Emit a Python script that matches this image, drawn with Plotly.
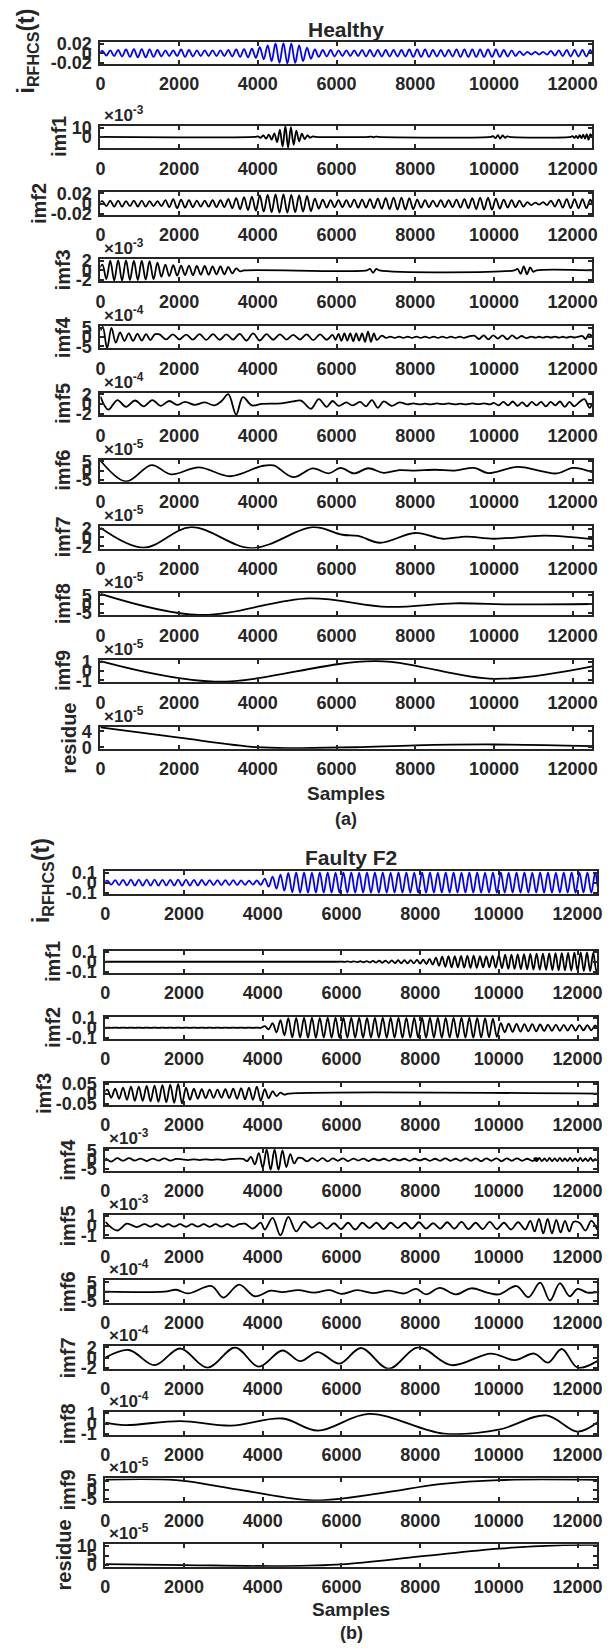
import plotly.graph_objects as go

W, H = 615, 1652
FONT = "Liberation Sans, Arial, sans-serif"
TXT = "#262626"

X_MAX = 12500
X_TICKS = [0, 2000, 4000, 6000, 8000, 10000, 12000]
X_TICK_TEXT = ["0", "2000", "4000", "6000", "8000", "10000", "12000"]

# ------------------------------------------------------------------ data
# Dense components: peak amplitude of each 200-sample cycle
# (units: 1e-3 for the raw currents / imf2 of (a) / imf1-3 of (b))
H_RAW_CYCLE = [5, 6, 7, 8, 9, 9, 8, 7, 6, 6, 8, 7, 6, 6, 6, 6, 7, 8, 9, 10,
               13, 17, 21, 22, 21, 17, 12, 8, 7, 7, 6, 6, 6, 7, 7, 7, 7, 7, 7, 8,
               8, 8, 7, 7, 7, 8, 8, 8, 8, 8, 8, 7, 6, 4, 3, 3, 3, 5, 6, 7, 7, 7, 7]
H_IMF1_BURST = [0.5, 1, 1.5, 2, 2.5, 3, 4, 6, 8, 11, 12, 12, 11, 9, 7, 5, 3.5, 2.5, 1.5, 1, 0.5]
H_IMF1_B2 = [0.3, 0.5, 0.3]
H_IMF1_B3 = [0.8, 1.5, 2, 2, 1.5, 1, 0.6]
H_IMF1_B4 = [0.8, 1.2, 1, 1.5, 2, 1.5, 2.5, 2, 3, 3.5, 3]
H_IMF2_CYCLE = [5, 6, 6, 5, 6, 6, 5, 5, 7, 9, 8, 7, 6, 6, 7, 7, 9, 11, 13, 14,
                16, 17, 18, 18, 17, 16, 15, 10, 8, 7, 7, 7, 8, 8, 9, 10, 11, 12, 12, 11,
                8, 7, 6, 7, 7, 8, 9, 11, 12, 12, 10, 8, 7, 6, 3, 2, 3, 6, 8, 9, 9, 9, 8]
H_IMF3_A = [1.2, 1.8, 2.0, 2.1, 2.1, 2.1, 2.1, 2.0, 2.0, 2.0, 2.0, 1.9, 1.9, 1.8, 1.6,
            1.3, 1.2, 1.2, 1.1, 1.1, 1.0, 1.0, 1.0, 1.0, 0.9, 0.9, 0.9, 0.9, 0.8, 0.8,
            0.8, 0.8, 0.7, 0.6, 0.4, 0.2]
H_IMF3_B = [0.3, 0.5, 0.3]
H_IMF3_C = [0.3, 0.7, 0.8, 0.8, 0.6, 0.3]
H_IMF4_A = [5.5, 6, 5, 3, 2.5, 2, 2, 2, 1.8, 1.8, 1.6, 1.6, 1.5]
H_IMF4_B = [1.5, 1.2, 1.5, 1.2, 1.4, 1.3, 1.6, 1.5, 1.6, 1.4, 1.5, 1.3, 1.8, 1.8, 2.0,
            1.8, 1.6, 1.4, 1.5, 1.3, 1.2, 1.3, 1.5, 1.6, 1.5, 1.4]
H_IMF4_C = [1.2, 1.5, 1.8, 2, 2, 1.8, 2, 2.2, 2, 1.8, 2, 2.5, 3, 2.5, 2, 1.5]
H_IMF4_D = [0.8, 0.4, 0.3, 0.4, 0.3, 0.4, 0.3, 0.4, 0.3, 0.4, 0.3, 0.4, 0.3, 0.4, 0.3,
            0.4, 0.3, 0.4, 0.3, 0.4, 0.3]
H_IMF4_E = [0.8, 1, 1, 1.2, 1, 0.8, 1, 1.2, 1, 0.8, 0.6, 0.5]
H_IMF4_F = [0.3, 0.3, 0.2, 0.3, 0.3, 0.2, 0.3, 0.3, 0.2, 0.3, 0.3, 0.2, 0.3]
H_IMF4_G = [0.6, 1.0, 1.5]
H_IMF5_X = [0, 200, 430, 650, 880, 1100, 1320, 1530, 1750, 1950, 2150, 2400, 2650, 2900,
            3080, 3250, 3450, 3620, 3850, 4100, 4600, 4900, 5100, 5350, 5550, 5750, 5900,
            6050, 6250, 6400, 6600, 6750, 6900, 7050, 7200, 7400, 7600, 7800]
H_IMF5_Y = [1.5, -1.2, 0.8, -0.6, 0.7, -0.5, 0.8, -0.4, 0.6, -0.2, 0.4, -0.2, 0.3, -0.3,
            0.6, 2.0, -2.2, 1.4, -0.3, 0, 0.1, 0.5, 0.7, -1.0, 1.0, -0.6, 0.6, -0.4, 0.3,
            -0.3, 0.4, -0.5, 0.8, -0.8, 0.5, -0.4, 0.3, -0.1]
H_IMF5_B = [0.1, 0.1, 0.05, 0.1, 0.1, 0.05, 0.1, 0.1, 0.05, 0.1, 0.1, 0.05, 0.1, 0.1]
H_IMF5_C = [0.2, 0.3, 0.4, 0.3, 0.5, 0.4, 0.3, 0.5, 0.4, 0.3, 0.4, 0.5, 0.4, 0.3, 0.5,
            0.6, 0.4, 0.5, 0.3]
H_IMF5_END_X = [12300, 12430, 12500]
H_IMF5_END_Y = [1.0, -0.8, 0.2]
H_IMF6_X = [0, 650, 1300, 1800, 2500, 3300, 4100, 4400, 4900, 5400, 5800, 6100, 6450, 6800,
            7200, 7600, 8000, 8500, 9000, 9500, 9850, 10600, 11600, 12000, 12500]
H_IMF6_Y = [5.5, -5.8, 3.0, -2.0, 1.8, -3.0, 2.5, 2.8, -3.5, 1.2, -1.5, 1.5, -1.5, 1.3,
            -1.2, 0.3, 0.0, 0.5, 0.0, 1.5, -1.3, 2.0, -1.5, 1.5, -0.8]
H_IMF7_X = [0, 1100, 2300, 3850, 5400, 6150, 6550, 7100, 8000, 8700, 9300, 10000, 11300, 12500]
H_IMF7_Y = [2.2, -2.3, 2.3, -2.4, 2.3, 0.6, 0.35, -1.2, 1.0, -0.3, 0.2, -0.3, 0.4, -0.4]
H_IMF8_X = [0, 2500, 5300, 7300, 9000, 10500, 12500]
H_IMF8_Y = [5.8, -6.0, 3.2, -1.5, 0.5, -0.1, 0.1]
H_IMF9_X = [0, 2900, 7000, 10000, 12500]
H_IMF9_Y = [1.05, -1.15, 1.05, -0.85, 0.5]
H_RES_X = [0, 2000, 4000, 5000, 6500, 8000, 10000, 12500]
H_RES_Y = [5.0, 2.4, 0.0, -0.2, 0.0, 0.5, 0.7, 0.3]

F_RAW_CYCLE = [20, 25, 28, 30, 30, 30, 30, 28, 28, 30, 30, 28, 26, 25, 25, 24, 24, 22, 20, 22,
               40, 60, 80, 95, 100, 100, 99, 100, 100, 99, 100, 100, 99, 100, 100, 100, 99,
               100, 100, 99, 100, 100, 99, 100, 100, 99, 100, 100, 99, 100, 100, 99, 100, 100,
               99, 100, 100, 99, 100, 100, 99, 100, 100]
F_IMF1_CYCLE = [2, 3, 4, 5, 6, 8, 10, 12, 14, 15, 15, 16, 18, 22, 28, 40, 50, 55, 55, 58, 60,
                60, 55, 55, 60, 65, 70, 70, 72, 75, 78, 80, 80, 82, 85, 85, 88, 90, 92, 92, 90]
F_IMF2_CYCLE = [1, 1, 1, 1, 1, 1, 1, 1, 1, 1, 1, 1, 1, 1, 1, 1, 1, 1, 1, 1,
                15, 45, 75, 95, 98, 100, 100, 98, 100, 100, 99, 100, 100, 98, 100, 100, 99,
                100, 98, 100, 100, 99, 100, 98, 100, 99, 100, 98, 95, 90,
                45, 40, 38, 35, 35, 32, 30, 30, 28, 28, 25, 25, 22]
F_IMF3_CYCLE = [20, 25, 30, 35, 35, 38, 40, 42, 45, 48, 30, 25, 22, 20, 20, 22, 25, 28, 30,
                35, 22, 12, 5]
F_IMF4_A = [0.8, 1.0, 0.8, 0.6, 0.8, 0.5, 0.6, 0.8, 0.6, 0.5, 0.7, 0.5, 0.4]
F_IMF4_B = [0.2, 0.2, 0.15, 0.2, 0.2, 0.15, 0.2, 0.2, 0.3]
F_IMF4_C = [0.4, 0.8, 1.5, 2.5, 3.5, 4.5, 5.5, 5.5, 5.5, 5.5, 5, 4, 3, 2, 1]
F_IMF4_D = [0.8, 0.9, 0.8, 0.7, 0.8, 0.9, 0.7, 0.6, 0.7, 0.8, 0.6, 0.5, 0.6, 0.7, 0.5, 0.4,
            0.5, 0.6, 0.5, 0.4, 0.5, 0.6, 0.5, 0.4, 0.5, 0.6, 0.5, 0.6, 0.7, 0.6, 0.5, 0.6,
            0.7, 0.6, 0.7, 0.8, 0.7, 0.6, 0.7, 0.8, 0.7, 0.6, 0.7, 0.6, 0.5, 0.6, 0.7]
F_IMF4_E = [0.7, 0.8, 0.9, 0.8, 0.7, 0.8, 0.9, 0.8, 0.7, 0.8, 0.9, 0.8, 0.7, 0.8, 0.9, 0.8,
            0.7, 0.8, 0.9, 0.8, 0.7, 0.8, 0.9, 0.8, 0.7]
F_IMF5_HEAD_X = [0, 300, 550, 800]
F_IMF5_HEAD_Y = [0.4, -0.5, 0.2, -0.15]
F_IMF5_B = [0.15, 0.1, 0.15, 0.12, 0.15, 0.1, 0.15, 0.12, 0.15, 0.1, 0.15, 0.12, 0.15, 0.1,
            0.15, 0.12, 0.15]
F_IMF5_MID_X = [3550, 3750, 3950, 4050, 4250, 4450, 4650, 4850, 5050, 5250]
F_IMF5_MID_Y = [0.2, -0.3, 0.3, -0.4, 0.8, -1.0, 0.9, -0.6, 0.4, -0.2]
F_IMF5_D = [0.3, 0.3, 0.25, 0.35, 0.3, 0.4, 0.3, 0.25, 0.3, 0.35, 0.3, 0.25, 0.3, 0.3, 0.35,
            0.3, 0.25, 0.3, 0.35, 0.3, 0.4, 0.35, 0.3, 0.35, 0.4, 0.35, 0.3, 0.4, 0.35, 0.4]
F_IMF5_E = [0.5, 0.6, 0.7, 0.8, 0.7, 0.8, 0.6, 0.7, 0.5, 0.6, 0.4]
F_IMF5_END_X = [12050, 12200, 12350, 12500]
F_IMF5_END_Y = [0.3, -0.5, 0.5, -0.4]
F_IMF6_X = [0, 1500, 1800, 2100, 2700, 3000, 3400, 3800, 4200, 4500, 4900, 5300, 5700, 6000,
            6400, 6800, 7200, 7600, 7900, 8150, 8500, 8900, 9300, 9700, 10000, 10450, 10750,
            11050, 11300, 11550, 11800, 12000, 12250, 12500]
F_IMF6_Y = [0, 0, 1.0, -1.0, 3.0, -3.2, 3.8, -2.5, 0.5, -0.3, 0.8, -0.5, 0.8, -1.2, 0.8,
            -0.8, 0.5, -1.0, 1.5, -1.5, 2.0, -1.5, 1.8, -0.5, -1.5, 3.0, -3.0, 4.8, -4.8,
            4.5, -2.5, 1.5, -0.5, -0.3]
F_IMF7_X = [0, 600, 1250, 1900, 2600, 3300, 3900, 4500, 4950, 5400, 5950, 6500, 7200, 7950,
            8800, 9800, 10400, 10900, 11250, 11600, 12000, 12500]
F_IMF7_Y = [0.0, 1.5, -1.5, 1.8, -2.0, 2.0, -1.8, 1.4, -0.7, 1.1, -1.2, 1.9, -2.2, 2.0,
            -1.5, 0.8, -0.5, 0.8, -1.0, 1.7, -2.0, -0.7]
F_IMF8_X = [0, 500, 1900, 3200, 4500, 5400, 6700, 8600, 10000, 11200, 12000, 12500]
F_IMF8_Y = [0.1, -0.15, 0.25, -0.2, 0.5, -0.7, 0.95, -1.0, -0.6, 0.8, -0.8, 0.1]
F_IMF9_X = [0, 1800, 3500, 5300, 7000, 8500, 10000, 12500]
F_IMF9_Y = [5.5, 5.2, -0.5, -6.0, -2.0, 3.0, 5.3, 5.4]
F_RES_X = [0, 2000, 4500, 6000, 8000, 10000, 11500, 12500]
F_RES_Y = [0.5, 0.0, -0.5, 0.4, 4.5, 8.6, 10.3, 10.5]


# ------------------------------------------------------------------ helpers
def alt(x0, step, amps, reps=1, pad=False):
    xs, ys, s, i = [], [], 1, 0
    for a in amps:
        for _ in range(reps):
            xs.append(x0 + i * step)
            ys.append(s * a)
            s, i = -s, i + 1
    if pad:
        xs = [x0 - step] + xs + [xs[-1] + step]
        ys = [0] + ys + [0]
    return xs, ys


def build(pieces, unit=1.0, start=None, end=None):
    X, Y = [], []
    if start is not None:
        X.append(0); Y.append(start)
    for p in pieces:
        if p[0] == "alt":
            xs, ys = alt(*p[1:])
        else:
            xs, ys = p[1], p[2]
        X += list(xs); Y += list(ys)
    if end is not None:
        X.append(X_MAX); Y.append(end)
    return X, [v * unit for v in Y]


A = "alt"
P = "pts"
PANEL_A = [
    dict(lab="i<sub>RFHCS</sub>(t)", d=build([(A, 50, 100, H_RAW_CYCLE, 2, True)], 1e-3),
         yr=[-0.023, 0.025], tv=[-0.02, 0, 0.02], tt=["-0.02", "0", "0.02"], ex=None, c="#0000FF"),
    dict(lab="imf1", d=build([(A, 4000, 70, H_IMF1_BURST, 1, True), (A, 6880, 60, H_IMF1_B2, 1, True),
                              (A, 9980, 60, H_IMF1_B3, 1, True), (A, 12000, 45, H_IMF1_B4, 1, True)],
                             start=0),
         yr=[-12.5, 12.5], tv=[0, 10], tt=["0", "10"], ex="-3"),
    dict(lab="imf2", d=build([(A, 50, 100, H_IMF2_CYCLE, 2, True)], 1e-3),
         yr=[-0.022, 0.022], tv=[-0.02, 0, 0.02], tt=["-0.02", "0", "0.02"], ex=None),
    dict(lab="imf3", d=build([(A, 50, 100, H_IMF3_A, 1, True), (A, 6850, 80, H_IMF3_B, 1, True),
                              (A, 10600, 80, H_IMF3_C, 1, True)], end=0),
         yr=[-2.3, 2.3], tv=[-2, 0, 2], tt=["-2", "0", "2"], ex="-3"),
    dict(lab="imf4", d=build([(A, 60, 110, H_IMF4_A, 1, False), (A, 1500, 170, H_IMF4_B, 1, False),
                              (A, 5900, 75, H_IMF4_C, 1, False), (A, 7150, 110, H_IMF4_D, 1, False),
                              (A, 9500, 120, H_IMF4_E, 1, False), (A, 10950, 100, H_IMF4_F, 1, False),
                              (A, 12250, 80, H_IMF4_G, 1, False)], start=3.5, end=0.5),
         yr=[-6, 6], tv=[-5, 0, 5], tt=["-5", "0", "5"], ex="-4"),
    dict(lab="imf5", d=build([(P, H_IMF5_X, H_IMF5_Y), (A, 7950, 150, H_IMF5_B, 1, False),
                              (A, 10000, 120, H_IMF5_C, 1, False), (P, H_IMF5_END_X, H_IMF5_END_Y)]),
         yr=[-2.3, 2.3], tv=[-2, 0, 2], tt=["-2", "0", "2"], ex="-4"),
    dict(lab="imf6", d=build([(P, H_IMF6_X, H_IMF6_Y)]),
         yr=[-6, 6], tv=[-5, 0, 5], tt=["-5", "0", "5"], ex="-5"),
    dict(lab="imf7", d=build([(P, H_IMF7_X, H_IMF7_Y)]),
         yr=[-2.5, 2.5], tv=[-2, 0, 2], tt=["-2", "0", "2"], ex="-5"),
    dict(lab="imf8", d=build([(P, H_IMF8_X, H_IMF8_Y)]),
         yr=[-6.2, 6.2], tv=[-5, 0, 5], tt=["-5", "0", "5"], ex="-5"),
    dict(lab="imf9", d=build([(P, H_IMF9_X, H_IMF9_Y)]),
         yr=[-1.2, 1.2], tv=[-1, 0, 1], tt=["-1", "0", "1"], ex="-5"),
    dict(lab="residue", d=build([(P, H_RES_X, H_RES_Y)]),
         yr=[-0.4, 5.2], tv=[0, 4], tt=["0", "4"], ex="-5"),
]
PANEL_B = [
    dict(lab="i<sub>RFHCS</sub>(t)", d=build([(A, 50, 100, F_RAW_CYCLE, 2, True)], 1e-3),
         yr=[-0.11, 0.11], tv=[-0.1, 0, 0.1], tt=["-0.1", "0", "0.1"], ex=None, c="#0000FF"),
    dict(lab="imf1", d=build([(A, 6000, 80, F_IMF1_CYCLE, 2, True)], 1e-3, start=0),
         yr=[-0.11, 0.11], tv=[-0.1, 0, 0.1], tt=["-0.1", "0", "0.1"], ex=None),
    dict(lab="imf2", d=build([(A, 50, 100, F_IMF2_CYCLE, 2, True)], 1e-3),
         yr=[-0.11, 0.11], tv=[-0.1, 0, 0.1], tt=["-0.1", "0", "0.1"], ex=None),
    dict(lab="imf3", d=build([(A, 50, 100, F_IMF3_CYCLE, 2, True)], 1e-3, end=0),
         yr=[-0.055, 0.055], tv=[-0.05, 0, 0.05], tt=["-0.05", "0", "0.05"], ex=None),
    dict(lab="imf4", d=build([(A, 0, 150, F_IMF4_A, 1, False), (A, 1950, 150, F_IMF4_B, 1, False),
                              (A, 3500, 100, F_IMF4_C, 1, False), (A, 5000, 130, F_IMF4_D, 1, False),
                              (A, 10900, 65, F_IMF4_E, 1, False)]),
         yr=[-6, 6], tv=[-5, 0, 5], tt=["-5", "0", "5"], ex="-3"),
    dict(lab="imf5", d=build([(P, F_IMF5_HEAD_X, F_IMF5_HEAD_Y), (A, 1000, 150, F_IMF5_B, 1, False),
                              (P, F_IMF5_MID_X, F_IMF5_MID_Y), (A, 5450, 180, F_IMF5_D, 1, False),
                              (A, 10800, 110, F_IMF5_E, 1, False), (P, F_IMF5_END_X, F_IMF5_END_Y)]),
         yr=[-1.15, 1.15], tv=[-1, 0, 1], tt=["-1", "0", "1"], ex="-3"),
    dict(lab="imf6", d=build([(P, F_IMF6_X, F_IMF6_Y)]),
         yr=[-6, 6], tv=[-5, 0, 5], tt=["-5", "0", "5"], ex="-4"),
    dict(lab="imf7", d=build([(P, F_IMF7_X, F_IMF7_Y)]),
         yr=[-2.2, 2.2], tv=[-2, 0, 2], tt=["-2", "0", "2"], ex="-4"),
    dict(lab="imf8", d=build([(P, F_IMF8_X, F_IMF8_Y)]),
         yr=[-1.1, 1.1], tv=[-1, 0, 1], tt=["-1", "0", "1"], ex="-4"),
    dict(lab="imf9", d=build([(P, F_IMF9_X, F_IMF9_Y)]),
         yr=[-6.2, 6.2], tv=[-5, 0, 5], tt=["-5", "0", "5"], ex="-5"),
    dict(lab="residue", d=build([(P, F_RES_X, F_RES_Y)]),
         yr=[-0.8, 10.8], tv=[0, 5, 10], tt=["0", "5", "10"], ex="-5"),
]

# ------------------------------------------------------------------ layout (pixels)
A_LEFT, A_RIGHT = 97, 597
B_LEFT, B_RIGHT = 102, 602
A_TOPS = [33, 118, 185.5, 253, 320.5, 388, 455.5, 523, 590.5, 658, 725.5]
B_TOPS = [872, 952, 1018.7, 1085.4, 1152.1, 1218.8, 1285.5, 1352.2, 1418.9, 1485.6, 1552.3]
BOX_H = 22.5
TICK_SIZE = 18
LAB_SIZE = 20
GLYPH_W = {"-": 0.333, ".": 0.278}


def text_w(s, size):
    return sum(GLYPH_W.get(ch, 0.556) for ch in s) * size


def px(x):
    return x / W


def py(y):
    return 1 - y / H


fig = go.Figure()
annotations = []
axis_id = 0


def tfont(size, bold=True):
    return dict(family=FONT, size=size, color=TXT, weight="bold" if bold else "normal")


for panel, left, right, tops in [(PANEL_A, A_LEFT, A_RIGHT, A_TOPS),
                                 (PANEL_B, B_LEFT, B_RIGHT, B_TOPS)]:
    for k, spec in enumerate(panel):
        axis_id += 1
        sfx = "" if axis_id == 1 else str(axis_id)
        top = tops[k]
        bot = top + BOX_H
        xs, ys = spec["d"]
        fig.add_trace(go.Scatter(
            x=xs, y=ys, mode="lines", xaxis="x" + sfx, yaxis="y" + sfx,
            line=dict(color=spec.get("c", "#000000"), width=1.8, shape="spline", smoothing=1.0),
            showlegend=False, hoverinfo="skip"))
        common = dict(showline=True, linewidth=2, linecolor=TXT, mirror="ticks",
                      ticks="inside", ticklen=4, tickwidth=1.5, tickcolor=TXT,
                      showgrid=False, zeroline=False, tickfont=tfont(TICK_SIZE))
        fig.layout["xaxis" + sfx] = dict(
            domain=[px(left), px(right)], anchor="y" + sfx, range=[0, X_MAX],
            tickvals=X_TICKS, ticktext=X_TICK_TEXT, ticklabelstandoff=3, **common)
        fig.layout["yaxis" + sfx] = dict(
            domain=[py(bot), py(top)], anchor="x" + sfx, range=spec["yr"],
            tickvals=spec["tv"], ticktext=spec["tt"], ticklabelstandoff=3, **common)
        maxw = max(text_w(t, TICK_SIZE) for t in spec["tt"])
        if k == 0:
            ylx, yly, fsz = left - 3 - maxw - 30, (top + bot) / 2 - 2, 23
        else:
            ylx, yly, fsz = left - 3 - maxw - 19, (top + bot) / 2, LAB_SIZE
        annotations.append(dict(
            x=px(ylx), y=py(yly), xref="paper", yref="paper",
            text=spec["lab"], textangle=-90, showarrow=False,
            xanchor="center", yanchor="middle", font=tfont(fsz)))
        if spec["ex"]:
            annotations.append(dict(
                x=px(left + 2), y=py(top + 1), xref="paper", yref="paper",
                text="×10<sup>" + spec["ex"] + "</sup>", showarrow=False,
                xanchor="left", yanchor="bottom", font=tfont(17)))

# titles and labels
for txt, xc, yc, sz in [("Healthy", (A_LEFT + A_RIGHT) / 2, 21, 21),
                        ("Faulty F2", (B_LEFT + B_RIGHT) / 2, 858, 21),
                        ("Samples", (A_LEFT + A_RIGHT) / 2, 793, 19),
                        ("Samples", (B_LEFT + B_RIGHT) / 2, 1618, 19),
                        ("(a)", (A_LEFT + A_RIGHT) / 2, 819, 18),
                        ("(b)", (B_LEFT + B_RIGHT) / 2, 1642, 18)]:
    annotations.append(dict(x=px(xc), y=py(yc), xref="paper", yref="paper", text=txt,
                            showarrow=False, xanchor="center", yanchor="middle",
                            font=tfont(sz)))

fig.update_layout(width=W, height=H, autosize=False,
                  margin=dict(l=0, r=0, t=0, b=0, pad=0),
                  paper_bgcolor="white", plot_bgcolor="white",
                  annotations=annotations, showlegend=False)

fig.write_html("out.html")
